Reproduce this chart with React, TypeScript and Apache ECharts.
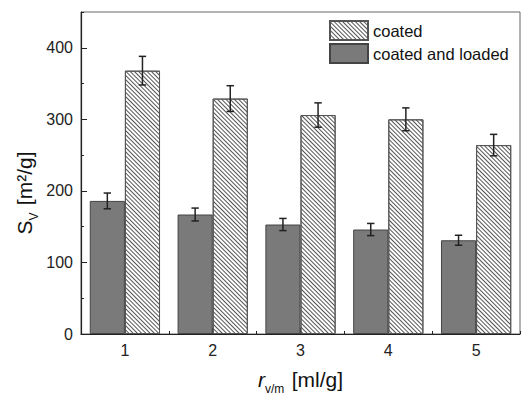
import React, { useEffect, useRef } from "react";
import * as echarts from "echarts";

const categories = ["1", "2", "3", "4", "5"];
const coatedValues = [368, 329, 306, 300, 264];
const coatedErrors = [20, 18, 17, 16, 15];
const loadedValues = [186, 167, 153, 146, 131];
const loadedErrors = [11, 9, 8.5, 8.5, 7];
const yTicks = { min: 0, max: 450, interval: 100, minorInterval: 50 };

const FONT = 'Arial, "Liberation Sans", sans-serif';

export default function App() {
  const ref = useRef<HTMLDivElement>(null);
  useEffect(() => {
    if (!ref.current) return;
    const chart = echarts.init(ref.current, null, { renderer: "svg" });

    const errData: number[][] = [];
    loadedValues.forEach((v, i) => errData.push([i, v, loadedErrors[i], -1]));
    coatedValues.forEach((v, i) => errData.push([i, v, coatedErrors[i], 1]));

    const option: any = {
      animation: false,
      backgroundColor: "#fff",
      grid: {
        left: 81,
        top: 12,
        right: 2,
        bottom: 60,
        show: true,
        borderColor: "#666",
        borderWidth: 1,
        backgroundColor: "transparent",
      },
      legend: {
        orient: "vertical",
        left: 329,
        top: 20,
        padding: 0,
        itemWidth: 38,
        itemHeight: 19,
        itemGap: 2,
        icon: "rect",
        data: ["coated", "coated and loaded"],
        textStyle: { fontSize: 16.5, color: "#111", fontFamily: FONT },
      },
      xAxis: [
        {
          type: "category",
          data: categories,
          position: "bottom",
          axisLine: { show: true, lineStyle: { color: "#222", width: 1.2 } },
          axisTick: { show: true, inside: true, alignWithLabel: true, length: 6, lineStyle: { color: "#222" } },
          axisLabel: { fontSize: 16, color: "#222", fontFamily: FONT, margin: 8 },
          name: "{r|r}{sub|v/m} {n|[ml/g]}",
          nameLocation: "middle",
          nameGap: 30,
          nameTextStyle: {
            fontFamily: FONT,
            color: "#111",
            rich: {
              r: { fontSize: 21, fontStyle: "italic", fontFamily: FONT, color: "#111", verticalAlign: "bottom", lineHeight: 26 },
              sub: { fontSize: 12, fontFamily: FONT, color: "#111", verticalAlign: "bottom", lineHeight: 16, padding: [0, 0, -5, 0] },
              n: { fontSize: 21, fontFamily: FONT, color: "#111", verticalAlign: "bottom", lineHeight: 26, padding: [0, 0, 0, 4] },
            },
          },
        },
        {
          type: "category",
          data: categories,
          position: "bottom",
          axisLine: { show: false },
          axisTick: { show: true, inside: true, length: 3, lineStyle: { color: "#222" } },
          axisLabel: { show: false },
        },
      ],
      yAxis: [
        {
          type: "value",
          min: yTicks.min,
          max: yTicks.max,
          interval: yTicks.interval,
          position: "left",
          axisLine: { show: true, lineStyle: { color: "#222", width: 1.2 } },
          axisTick: { show: true, inside: true, length: 6, lineStyle: { color: "#222" } },
          axisLabel: { fontSize: 16, color: "#222", fontFamily: FONT, margin: 8, showMaxLabel: false },
          splitLine: { show: false },
        },
        {
          type: "value",
          min: yTicks.min,
          max: yTicks.max,
          interval: yTicks.minorInterval,
          position: "left",
          offset: 0,
          axisLine: { show: false },
          axisTick: { show: true, inside: true, length: 3, lineStyle: { color: "#222" } },
          axisLabel: { show: false },
          splitLine: { show: false },
        },
      ],
      graphic: [
        {
          type: "text",
          x: 22,
          y: 193,
          rotation: Math.PI / 2,
          style: {
            text: "{s|S}{sub|V} {n|[m²/g]}",
            textAlign: "center",
            textVerticalAlign: "middle",
            fontFamily: FONT,
            rich: {
              s: { fontSize: 21, fontFamily: FONT, fill: "#111", verticalAlign: "bottom", lineHeight: 26 },
              sub: { fontSize: 12, fontFamily: FONT, fill: "#111", verticalAlign: "bottom", lineHeight: 16, padding: [0, 0, -5, 0] },
              n: { fontSize: 21, fontFamily: FONT, fill: "#111", verticalAlign: "bottom", lineHeight: 26, padding: [0, 0, 0, 4] },
            },
          },
        },
      ],
      series: [
        {
          name: "coated and loaded",
          type: "bar",
          data: loadedValues,
          barGap: "0%",
          barCategoryGap: "20%",
          itemStyle: { color: "#7a7a7a", borderColor: "#444", borderWidth: 1 },
        },
        {
          name: "coated",
          type: "bar",
          data: coatedValues,
          barGap: "0%",
          barCategoryGap: "20%",
          itemStyle: {
            color: "#fff",
            borderColor: "#555",
            borderWidth: 1,
            decal: {
              symbol: "rect",
              symbolSize: 1,
              dashArrayX: [1, 0],
              dashArrayY: [1, 2],
              rotation: Math.PI / 4,
              color: "#555",
            },
          },
        },
        {
          type: "custom",
          name: "err",
          z: 10,
          data: errData,
          encode: { x: 0, y: 1 },
          renderItem: (params: any, api: any) => {
            const idx = api.value(0);
            const val = api.value(1);
            const err = api.value(2);
            const side = api.value(3);
            const band = api.size([1, 0])[0];
            const barW = (band * 0.8) / 2;
            const c = api.coord([idx, val]);
            const x = c[0] + (side * barW) / 2;
            const yTop = api.coord([idx, val + err])[1];
            const yBot = api.coord([idx, val - err])[1];
            const cap = 3.7;
            const st = { stroke: "#222", lineWidth: 1.5 };
            return {
              type: "group",
              children: [
                { type: "line", shape: { x1: x, y1: yTop, x2: x, y2: yBot }, style: st },
                { type: "line", shape: { x1: x - cap, y1: yTop, x2: x + cap, y2: yTop }, style: st },
                { type: "line", shape: { x1: x - cap, y1: yBot, x2: x + cap, y2: yBot }, style: st },
              ],
            };
          },
        },
      ],
    };
    chart.setOption(option);
    return () => chart.dispose();
  }, []);
  return (
    <div
      ref={ref}
      style={{ position: "fixed", left: 0, top: 0, width: 522, height: 400, background: "#fff" }}
    />
  );
}
